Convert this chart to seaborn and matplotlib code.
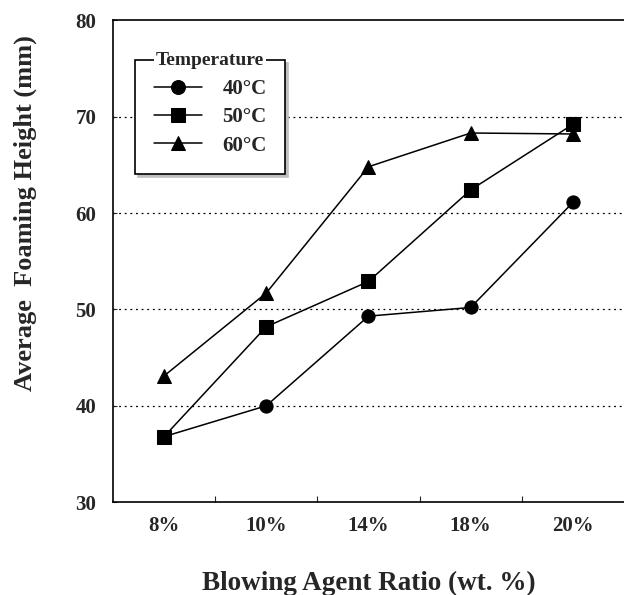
import pandas as pd
import seaborn as sns
import matplotlib
matplotlib.use('Agg')
import matplotlib.pyplot as plt

# data
ratios = ['8%', '10%', '14%', '18%', '20%']
temps = ['40°C', '50°C', '60°C']
h40 = [36.8, 40.0, 49.3, 50.2, 61.1]
h50 = [36.8, 48.2, 52.9, 62.4, 69.2]
h60 = [43.1, 51.7, 64.8, 68.3, 68.2]

# long format for seaborn
df = pd.DataFrame({
    'ratio': ratios * 3,
    'temp': [temps[0]] * 5 + [temps[1]] * 5 + [temps[2]] * 5,
    'height': h40 + h50 + h60,
})

sns.set_style('white')
plt.rcParams['font.family'] = ['Liberation Serif', 'DejaVu Serif']
plt.rcParams['font.weight'] = 'bold'

fig = plt.figure(figsize=(6.24, 5.95), dpi=100)
ax = fig.add_axes([0.181, 0.156, 0.819, 0.81])

sns.lineplot(data=df, x='ratio', y='height', hue='temp', style='temp',
             palette=['black'] * 3, markers=['o', 's', '^'], dashes=False,
             markersize=9.5, linewidth=1.1, markeredgecolor='black', ax=ax)

ax.set_ylim(30, 80)
ax.set_xlim(-0.5, 4.5)
ax.set_yticks([30, 40, 50, 60, 70, 80])
ax.tick_params(axis='y', labelsize=15, direction='in', length=3, pad=12, left=True)

# category boundaries as major ticks, labels on minor ticks
ax.set_xticks([0.5, 1.5, 2.5, 3.5])
ax.set_xticklabels([])
ax.set_xticks(range(5), minor=True)
ax.set_xticklabels(ratios, minor=True, fontsize=15, fontweight='bold')
ax.tick_params(axis='x', which='major', direction='in', length=4, bottom=True)
ax.tick_params(axis='x', which='minor', length=0, pad=10)

for y in [40, 50, 60, 70]:
    ax.axhline(y, color='black', linestyle=(0, (1.5, 3)), linewidth=0.9, zorder=0)

for s in ['left', 'top', 'bottom']:
    ax.spines[s].set_color('black')
    ax.spines[s].set_linewidth(1.2)
ax.spines['right'].set_visible(False)

ax.set_xlabel('Blowing Agent Ratio (wt. %)', fontsize=19.5, fontweight='bold', labelpad=25)
ax.set_ylabel('Average  Foaming Height (mm)', fontsize=19, fontweight='bold', labelpad=28)
ax.yaxis.label.set_y(0.6)

handles, labels = ax.get_legend_handles_labels()
leg = ax.legend(handles, labels, loc='upper left', bbox_to_anchor=(0.043, 0.917),
                frameon=True, fancybox=False, edgecolor='black', framealpha=1,
                shadow={'color': '0.75', 'alpha': 1},
                handlelength=2.3, handletextpad=1.0, borderpad=0.9,
                borderaxespad=0, labelspacing=0.4,
                prop={'weight': 'bold', 'size': 15})
leg.get_frame().set_linewidth(1.2)
for h in leg.legend_handles:
    h.set_markersize(10)

# legend title sitting on the top border of the frame
fig.canvas.draw()
bb = leg.get_window_extent().transformed(ax.transAxes.inverted())
ax.text((bb.x0 + bb.x1) / 2, bb.y1, 'Temperature', transform=ax.transAxes,
        ha='center', va='center', fontsize=14, fontweight='bold', zorder=10,
        bbox=dict(facecolor='white', edgecolor='none', pad=1.5))

fig.savefig('out.png', dpi=100)
